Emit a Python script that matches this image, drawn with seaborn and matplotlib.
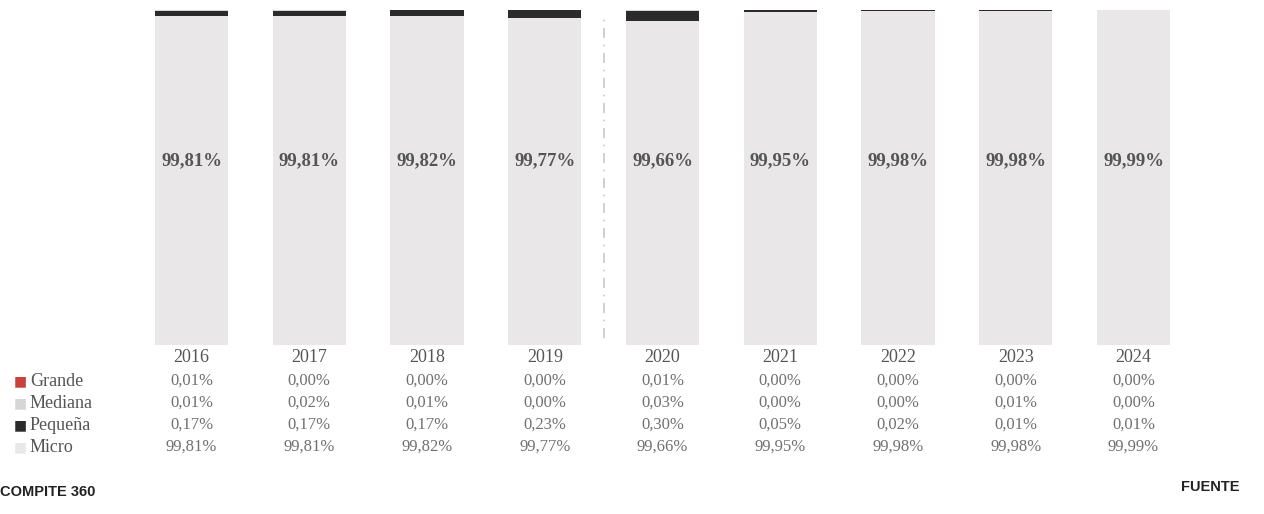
import matplotlib
matplotlib.use("Agg")
import matplotlib.pyplot as plt
import matplotlib.transforms as mtransforms
import numpy as np
import pandas as pd
import seaborn as sns

years = ["2016", "2017", "2018", "2019", "2020", "2021", "2022", "2023", "2024"]
grande = [0.01, 0.00, 0.00, 0.00, 0.01, 0.00, 0.00, 0.00, 0.00]
mediana = [0.01, 0.02, 0.01, 0.00, 0.03, 0.00, 0.00, 0.01, 0.00]
pequena = [0.17, 0.17, 0.17, 0.23, 0.30, 0.05, 0.02, 0.01, 0.01]
micro = [99.81, 99.81, 99.82, 99.77, 99.66, 99.95, 99.98, 99.98, 99.99]

series = [("Grande", grande, "#c8413a"),
          ("Mediana", mediana, "#d6d6d6"),
          ("Pequeña", pequena, "#2b2b2b"),
          ("Micro", micro, "#e9e7e7")]

sns.set_theme(style="white")
plt.rcParams["font.family"] = ["Liberation Serif", "DejaVu Serif"]

fig = plt.figure(figsize=(12.64, 5.14), dpi=100)
ax = fig.add_axes([0, 1 - 345 / 514, 1, 335 / 514])

# stacked bars drawn as cumulative layers, tallest first
df = pd.DataFrame({"year": years, "Grande": grande, "Mediana": mediana,
                   "Pequeña": pequena, "Micro": micro})
df["c_micro"] = df["Micro"]
df["c_peq"] = df["c_micro"] + df["Pequeña"]
df["c_med"] = df["c_peq"] + df["Mediana"]
df["c_gra"] = df["c_med"] + df["Grande"]

for col, color in [("c_gra", "#c8413a"), ("c_med", "#d6d6d6"),
                   ("c_peq", "#2b2b2b"), ("c_micro", "#e9e7e7")]:
    sns.barplot(data=df, x="year", y=col, color=color, width=0.62,
                saturation=1, ax=ax, linewidth=0)

ax.set_xlim(-191.5 / 117.75, (1264 - 191.5) / 117.75)
ax.set_ylim(90, 100)
ax.axis("off")

ax.axvline(3.5, ymin=0.02, ymax=0.99, color="#c8c8c8", lw=1.2,
           linestyle=(0, (6, 4, 1, 4)))

for i, v in enumerate(micro):
    ax.text(i, 0.55, f"{v:.2f}%".replace(".", ","), transform=ax.get_xaxis_transform(),
            ha="center", va="center", fontsize=13.5, fontweight="bold", color="#555555")

# table under the bars
trans = mtransforms.blended_transform_factory(ax.transData, fig.transFigure)
def fy(px):
    return 1 - px / 514

for i, y in enumerate(years):
    ax.text(i, fy(357), y, transform=trans, ha="center", va="center",
            fontsize=13, color="#555555")

row_px = [381, 403, 425, 447]
for (name, vals, color), py in zip(series, row_px):
    fig.text(14 / 1264, fy(py), "■", ha="left", va="center", fontsize=10,
             color=color, family="DejaVu Sans")
    fig.text(30 / 1264, fy(py), name, ha="left", va="center", fontsize=13,
             color="#555555")
    for i, v in enumerate(vals):
        ax.text(i, fy(py), f"{v:.2f}%".replace(".", ","), transform=trans,
                ha="center", va="center", fontsize=12, color="#707070")

fig.text(0, fy(492), "COMPITE 360", ha="left", va="center", fontsize=10.5,
         fontweight="bold", color="#222222", family="Liberation Sans")
fig.text(1240 / 1264, fy(487), "FUENTE", ha="right", va="center", fontsize=10.5,
         fontweight="bold", color="#222222", family="Liberation Sans")

fig.savefig("out.png", dpi=100)
